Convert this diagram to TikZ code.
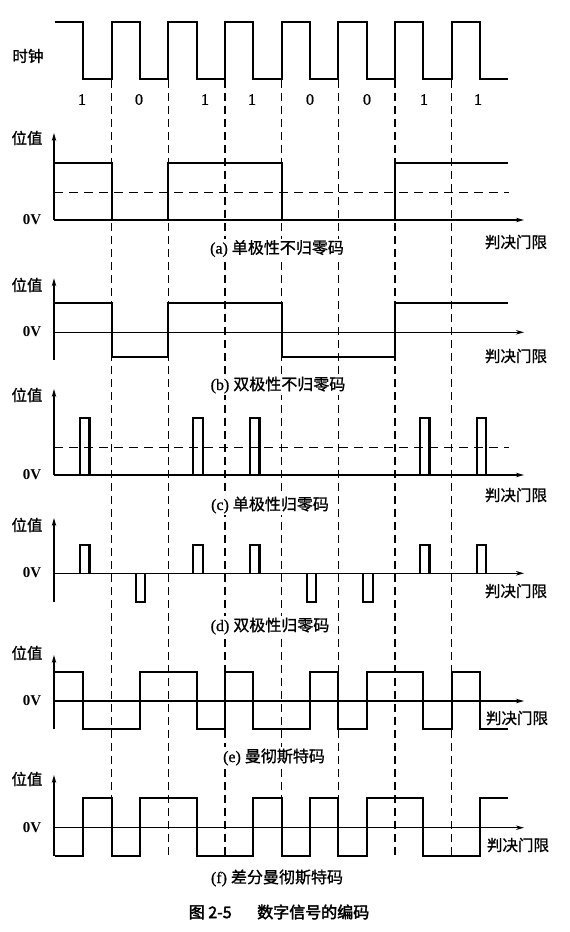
\documentclass[tikz,border=0pt]{standalone}
\usepackage{fontspec}
\setmainfont{Liberation Serif}
\newfontfamily\cjk{Noto Sans CJK SC}[FakeBold=1]
\newfontfamily\cjkb{Noto Sans CJK SC}[FakeBold=2.5]
\newfontfamily\latb{Liberation Serif}[FakeBold=1]
\usetikzlibrary{arrows.meta}
\tikzset{
 sig/.style={line width=2.1pt, line join=miter},
 ax/.style={line width=1.3pt, -{Stealth[length=8pt,width=4.5pt]}},
 vgrid/.style={line width=1.2pt, dash pattern=on 8pt off 5pt},
 thr/.style={line width=1.2pt, dash pattern=on 9pt off 6pt},
 cn/.style={font={\cjk\fontsize{15.5}{16}\selectfont}, inner sep=0pt},
 bitl/.style={font={\latb\fontsize{16}{16}\selectfont}, inner sep=0pt},
 zv/.style={font={\bfseries\fontsize{15}{16}\selectfont}, inner sep=0pt},
 capt/.style={font={\latb\fontsize{16}{16}\selectfont}, inner sep=1.5pt, fill=white},
}
\begin{document}
\begin{tikzpicture}[x=1pt,y=-1pt]
\useasboundingbox[fill=white] (0,0) rectangle (570,932);

% vertical dashed bit boundaries
\foreach \xx/\nm in {111.7/g1,168.3/g2,225/g3,281.7/g4,338.3/g5,395/g6,451.7/g7}{
  \coordinate (\nm t) at (\xx,80);
  \coordinate (\nm b) at (\xx,858);
  \draw[vgrid] (\nm t) -- (\nm b);
}

% clock
\node[cn] (clk) at (28,56) {时钟};
\draw[sig] (55,21.7) -- (83.3,21.7) -- (83.3,79.3) -- (111.7,79.3) -- (111.7,21.7) -- (140,21.7) -- (140,79.3) -- (168.3,79.3) -- (168.3,21.7) -- (196.7,21.7) -- (196.7,79.3) -- (225,79.3) -- (225,21.7) -- (253.3,21.7) -- (253.3,79.3) -- (281.7,79.3) -- (281.7,21.7) -- (310,21.7) -- (310,79.3) -- (338.3,79.3) -- (338.3,21.7) -- (366.7,21.7) -- (366.7,79.3) -- (395,79.3) -- (395,21.7) -- (423.3,21.7) -- (423.3,79.3) -- (451.7,79.3) -- (451.7,21.7) -- (480,21.7) -- (480,79.3) -- (508,79.3);
\foreach \xx/\bb/\nm in {82/1/b0,139/0/b1,205/1/b2,252/1/b3,310/0/b4,367/0/b5,424/1/b6,478/1/b7}{
  \node[bitl] (\nm) at (\xx,99.5) {\bb};
}

% (a) unipolar NRZ
\coordinate (ao) at (54,220); \coordinate (ay) at (54,133); \coordinate (ax) at (524,220);
\draw[ax] (ao) -- (ay);
\draw[ax] (ao) -- (ax);
\coordinate (at1) at (54,192.3); \coordinate (at2) at (509,192.3);
\draw[thr] (at1) -- (at2);
\draw[sig] (55,163.3) -- (111.7,163.3) -- (111.7,220) -- (168.3,220) -- (168.3,163.3) -- (281.7,163.3) -- (281.7,220) -- (395,220) -- (395,163.3) -- (508,163.3);
\node[cn] (av) at (27,138) {位值};
\node[zv] (a0) at (32,219.5) {0V};
\node[cn] (aj) at (516,242) {判决门限};
\node[capt] (acap) at (277,248.5) {(a) {\cjk 单极性不归零码}};

% (b) bipolar NRZ
\coordinate (bo) at (54,360); \coordinate (by) at (54,278.3);
\coordinate (bz) at (54,332.3); \coordinate (bx) at (524,332.3);
\draw[ax] (bo) -- (by);
\draw[ax] (bz) -- (bx);
\draw[sig] (55,303.3) -- (111.7,303.3) -- (111.7,357.3) -- (168.3,357.3) -- (168.3,303.3) -- (281.7,303.3) -- (281.7,357.3) -- (395,357.3) -- (395,303.3) -- (508,303.3);
\node[cn] (bv) at (27,285) {位值};
\node[zv] (b0) at (32,332) {0V};
\node[cn] (bj) at (516,356) {判决门限};
\node[capt] (bcap) at (278,385) {(b) {\cjk 双极性不归零码}};

% (c) unipolar RZ
\coordinate (co) at (54,475); \coordinate (cy) at (54,389); \coordinate (cx) at (524,475);
\draw[ax] (co) -- (cy);
\draw[ax] (co) -- (cx);
\coordinate (ct1) at (54,447.3); \coordinate (ct2) at (509,447.3);
\draw[thr] (ct1) -- (ct2);
\foreach \xx in {80,193.3,250,420,476.7}{
  \draw[sig] (\xx,475) -- (\xx,417.7) -- (\xx+9.5,417.7) -- (\xx+9.5,475);
}
\node[cn] (cv) at (27,395) {位值};
\node[zv] (c0) at (32,475) {0V};
\node[cn] (cj) at (516,495) {判决门限};
\node[capt] (ccap) at (270,505) {(c) {\cjk 单极性归零码}};

% (d) bipolar RZ
\coordinate (do) at (54,602); \coordinate (dy) at (54,518);
\coordinate (dz) at (54,573.3); \coordinate (dx) at (524,573.3);
\draw[ax] (do) -- (dy);
\draw[ax] (dz) -- (dx);
\foreach \xx in {80,193.3,250,420,476.7}{
  \draw[sig] (\xx,573.3) -- (\xx,545) -- (\xx+9.5,545) -- (\xx+9.5,573.3);
}
\foreach \xx in {135.7,306.7,363.3}{
  \draw[sig] (\xx,573.3) -- (\xx,602.3) -- (\xx+9.5,602.3) -- (\xx+9.5,573.3);
}
\node[cn] (dv) at (27,525) {位值};
\node[zv] (d0) at (32,573) {0V};
\node[cn] (dj) at (516,591) {判决门限};
\node[capt] (dcap) at (270,626) {(d) {\cjk 双极性归零码}};

% (e) Manchester
\coordinate (eo) at (54,729); \coordinate (ey) at (54,655);
\coordinate (ez) at (54,701); \coordinate (ex) at (524,701);
\draw[ax] (eo) -- (ey);
\draw[ax] (ez) -- (ex);
\draw[sig] (55,671.7) -- (83.3,671.7) -- (83.3,729) -- (140,729) -- (140,671.7) -- (196.7,671.7) -- (196.7,729) -- (225,729) -- (225,671.7) -- (253.3,671.7) -- (253.3,729) -- (310,729) -- (310,671.7) -- (338.3,671.7) -- (338.3,729) -- (366.7,729) -- (366.7,671.7) -- (423.3,671.7) -- (423.3,729) -- (451.7,729) -- (451.7,671.7) -- (480,671.7) -- (480,729) -- (508,729);
\node[cn] (ev) at (27,653) {位值};
\node[zv] (e0) at (32,701) {0V};
\node[cn] (ej) at (517,718) {判决门限};
\node[capt] (ecap) at (274,757) {(e) {\cjk 曼彻斯特码}};

% (f) differential Manchester
\coordinate (fo) at (54,856); \coordinate (fy) at (54,775);
\coordinate (fz) at (54,827.7); \coordinate (fx) at (524,827.7);
\draw[ax] (fo) -- (fy);
\draw[ax] (fz) -- (fx);
\draw[sig] (55,855.7) -- (83.3,855.7) -- (83.3,798.3) -- (111.7,798.3) -- (111.7,855.7) -- (140,855.7) -- (140,798.3) -- (196.7,798.3) -- (196.7,855.7) -- (253.3,855.7) -- (253.3,798.3) -- (281.7,798.3) -- (281.7,855.7) -- (310,855.7) -- (310,798.3) -- (338.3,798.3) -- (338.3,855.7) -- (366.7,855.7) -- (366.7,798.3) -- (423.3,798.3) -- (423.3,855.7) -- (480,855.7) -- (480,798.3) -- (508,798.3);
\node[cn] (fv) at (27,779) {位值};
\node[zv] (f0) at (32,828) {0V};
\node[cn] (fj) at (518,845) {判决门限};
\node[capt] (fcap) at (277,878) {(f) {\cjk 差分曼彻斯特码}};

% figure caption
\node[font={\cjkb\fontsize{16}{16}\selectfont}, inner sep=0pt] (fig) at (279,912) {图 2-5\hspace{1.6em}数字信号的编码};
\end{tikzpicture}
\end{document}
